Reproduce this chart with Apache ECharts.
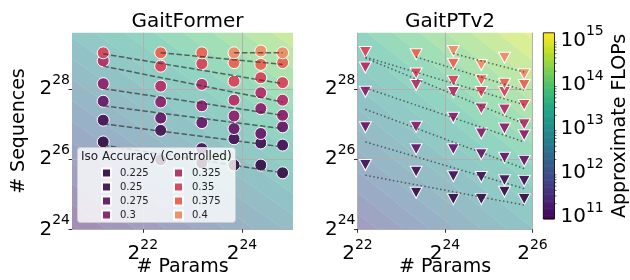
<!DOCTYPE html>
<html><head><meta charset="utf-8">
<script src="https://cdn.jsdelivr.net/npm/echarts@6/dist/echarts.min.js"></script>
<style>html,body{margin:0;padding:0;background:#fff}#c{width:630px;height:280px}</style>
</head><body><div id="c"></div>
<script>
// ---------- data (log2 values) ----------
const levels = ['0.225','0.25','0.275','0.3','0.325','0.35','0.375','0.4'];
const levelColors = ['#3d1c52','#4b1f5f','#6b2470','#8e2b72','#b3386e','#d54c61','#e66a58','#ec916b'];

const leftXTicks = [22, 24];
const rightXTicks = [22, 24, 26];
const yTicks = [24, 26, 28];
const cbarTicks = [11, 12, 13, 14, 15];

// GaitFormer: log2(# Params) columns and log2(# Sequences) per iso-accuracy level
const gfParams = [21.2, 22.36, 23.19, 23.84, 24.38, 24.82];
const gfSeq225 = [26.49, 25.98, 25.89, 25.83, 25.83, 25.61];
const gfSeq250 = [27.11, 26.82, 26.30, 26.58, 26.46, 26.40];
const gfSeq275 = [27.65, 27.17, 27.04, 26.87, 26.73, 26.92];
const gfSeq300 = [28.15, 27.63, 27.52, 27.23, 27.44, 27.25];
const gfSeq325 = [28.80, 28.08, 28.13, 27.68, 27.89, 27.68];
const gfSeq350 = [29.03, 28.65, 28.72, 28.22, 28.32, 28.18];
const gfSeq375 = [null, 29.03, 29.03, 28.75, 28.70, 28.75];
const gfSeq400 = [null, null, null, 29.03, 29.08, 29.03];
// GaitFormer iso-accuracy fit lines [[x0,y0],[x1,y1]]
const gfFit225 = [[21.2, 26.40], [24.82, 25.61]];
const gfFit250 = [[21.2, 27.01], [24.82, 26.35]];
const gfFit275 = [[21.2, 27.52], [24.82, 26.87]];
const gfFit300 = [[21.2, 28.01], [24.82, 27.25]];
const gfFit325 = [[21.2, 28.65], [24.82, 27.63]];
const gfFit350 = [[21.2, 29.00], [24.82, 28.15]];
const gfFit375 = [[22.36, 29.03], [24.82, 28.70]];
const gfFit400 = [[23.84, 29.03], [24.82, 29.03]];

// GaitPTv2
const ptParams = [22.18, 23.34, 24.19, 24.83, 25.36, 25.81];
const ptSeq225 = [null, 25.04, 24.86, 24.86, 25.07, 24.86];
const ptSeq250 = [25.83, 25.64, 25.51, 25.49, 25.40, 25.38];
const ptSeq275 = [26.91, 26.28, 26.28, 26.14, 26.04, 25.95];
const ptSeq300 = [27.92, 26.92, 27.18, 26.73, 26.87, 26.68];
const ptSeq325 = [28.61, 28.11, 27.91, 27.44, 27.41, 26.99];
const ptSeq350 = [29.05, 28.44, 28.23, 27.91, 27.91, 27.54];
const ptSeq375 = [null, 28.99, 28.72, 28.25, 28.15, 28.11];
const ptSeq400 = [null, null, 29.08, 28.68, 28.89, 28.42];
const ptFit225 = [[22.18, 25.54], [25.81, 24.69]];
const ptFit250 = [[22.18, 26.49], [25.81, 25.16]];
const ptFit275 = [[22.18, 27.42], [25.81, 25.73]];
const ptFit300 = [[22.18, 28.03], [25.81, 26.49]];
const ptFit325 = [[22.18, 28.88], [25.81, 27.01]];
const ptFit350 = [[22.18, 28.91], [25.81, 27.55]];
const ptFit375 = [[23.34, 28.91], [25.81, 27.96]];
const ptFit400 = [[24.19, 29.01], [25.81, 28.48]];

// colour bar range (log10 FLOPs)
const cbarMin = 10.955, cbarMax = 15.17;

// ---------- build ----------
const FONT = 'DejaVu Sans';
const gfSeqs = [gfSeq225, gfSeq250, gfSeq275, gfSeq300, gfSeq325, gfSeq350, gfSeq375, gfSeq400];
const gfFits = [gfFit225, gfFit250, gfFit275, gfFit300, gfFit325, gfFit350, gfFit375, gfFit400];
const ptSeqs = [ptSeq225, ptSeq250, ptSeq275, ptSeq300, ptSeq325, ptSeq350, ptSeq375, ptSeq400];
const ptFits = [ptFit225, ptFit250, ptFit275, ptFit300, ptFit325, ptFit350, ptFit375, ptFit400];

const viridis = ['#440154','#482475','#414487','#355f8d','#2a788e','#21918c','#22a884','#44bf70','#7ad151','#bddf26','#fde725'];

// map log10 FLOPs <-> log2(params)+log2(seqs) for the background field
const S0 = 43.94, SK = 0.3355;
function sOf(lf){ return S0 + (lf - cbarMin) / SK; }

const bandData = [];
for (let lf = 9.8; lf < 16.6; lf += 0.2) {
  const mid = Math.min(cbarMax, Math.max(cbarMin, lf + 0.1));
  bandData.push([lf, lf + 0.2, mid]);
}
const cbarData = [];
const NS = 160;
for (let i = 0; i < NS; i++) {
  const lo = cbarMin + (cbarMax - cbarMin) * i / NS;
  const hi = cbarMin + (cbarMax - cbarMin) * (i + 1) / NS;
  cbarData.push([lo, hi, (lo + hi) / 2]);
}
const minorTicks = [];
for (let n = 10; n <= 15; n++) for (let k = 2; k <= 9; k++) {
  const v = n + Math.log10(k);
  if (v > cbarMin && v < cbarMax) minorTicks.push([v]);
}

const xl = [20.57, 25.03], xr = [22, 26], yr = [24, 29.60];

function bandSeries(gi, xe) {
  return {
    type: 'custom', coordinateSystem: 'cartesian2d', xAxisIndex: gi, yAxisIndex: gi,
    clip: true, z: -1, silent: true, data: bandData,
    renderItem: function (params, api) {
      const sLo = sOf(api.value(0)), sHi = sOf(api.value(1));
      const x0 = xe[0] - 3, x1 = xe[1] + 3;
      const pts = [[x0, sLo - x0], [x1, sLo - x1], [x1, sHi - x1], [x0, sHi - x0]].map(p => api.coord(p));
      return { type: 'polygon', shape: { points: pts }, style: { fill: api.visual('color'), opacity: 0.5 } };
    }
  };
}

const series = [];
series.push(bandSeries(0, xl));
series.push(bandSeries(1, xr));
series.push({
  type: 'custom', coordinateSystem: 'cartesian2d', xAxisIndex: 2, yAxisIndex: 2,
  silent: true, data: cbarData, z: 2,
  renderItem: function (params, api) {
    const a = api.coord([0, api.value(1)]), b = api.coord([1, api.value(0)]);
    return { type: 'rect', shape: { x: a[0], y: a[1] - 0.3, width: b[0] - a[0], height: b[1] - a[1] + 0.6 }, style: { fill: api.visual('color') } };
  }
});
const visualIdx = [0, 1, 2];
series.push({
  type: 'custom', coordinateSystem: 'cartesian2d', xAxisIndex: 2, yAxisIndex: 2,
  silent: true, data: [[0]], z: 5,
  renderItem: function (params, api) {
    const a = api.coord([0, cbarMax]), b = api.coord([1, cbarMin]);
    return { type: 'rect', shape: { x: a[0], y: a[1], width: b[0] - a[0], height: b[1] - a[1] }, style: { fill: 'none', stroke: '#000', lineWidth: 0.8 } };
  }
});
series.push({
  type: 'custom', coordinateSystem: 'cartesian2d', xAxisIndex: 2, yAxisIndex: 2,
  silent: true, data: minorTicks, z: 5,
  renderItem: function (params, api) {
    const p = api.coord([1, api.value(0)]);
    return { type: 'line', shape: { x1: p[0], y1: p[1], x2: p[0] + 2, y2: p[1] }, style: { stroke: '#000', lineWidth: 0.6 } };
  }
});

function pts(xs, ys) { const out = []; xs.forEach((x, i) => { if (ys[i] != null) out.push([x, ys[i]]); }); return out; }

levels.forEach((lv, i) => {
  series.push({
    name: lv, type: 'scatter', xAxisIndex: 0, yAxisIndex: 0, data: pts(gfParams, gfSeqs[i]),
    symbol: 'circle', symbolSize: 12, silent: true, z: 3,
    itemStyle: { color: levelColors[i], borderColor: '#fff', borderWidth: 1, opacity: 1 }
  });
  series.push({
    name: lv, type: 'scatter', xAxisIndex: 1, yAxisIndex: 1, data: pts(ptParams, ptSeqs[i]),
    symbol: 'triangle', symbolRotate: 180, symbolSize: [12, 11], silent: true, z: 3,
    itemStyle: { color: levelColors[i], borderColor: '#fff', borderWidth: 1, opacity: 1 }
  });
});
levels.forEach((lv, i) => {
  series.push({
    name: 'fitL' + lv, type: 'line', xAxisIndex: 0, yAxisIndex: 0, data: gfFits[i],
    symbol: 'none', silent: true, z: 4, lineStyle: { color: 'rgba(50,50,50,0.7)', width: 1.5, type: [5.5, 2.4] }
  });
  series.push({
    name: 'fitR' + lv, type: 'line', xAxisIndex: 1, yAxisIndex: 1, data: ptFits[i],
    symbol: 'none', silent: true, z: 4, lineStyle: { color: 'rgba(50,50,50,0.7)', width: 1.5, type: [1.5, 2.5] }
  });
});

const rich = {
  b: { fontSize: 20, fontFamily: FONT, color: '#000' },
  s: { fontSize: 14, fontFamily: FONT, color: '#000', padding: [0, 0, 17, 0] }
};
const tickStyle = { show: true, length: 3.5, lineStyle: { color: '#000', width: 0.8 } };
const splitStyle = { show: true, lineStyle: { color: '#b0b0b0', width: 1 } };
const nameStyle = { fontSize: 19, fontFamily: FONT, color: '#000' };

function xAxis(gi, ext, ticks) {
  return {
    type: 'value', gridIndex: gi, min: ext[0], max: ext[1], position: 'bottom',
    axisLine: { show: false },
    axisTick: Object.assign({ customValues: ticks }, tickStyle),
    axisLabel: { customValues: ticks, formatter: v => '{b|2}{s|' + v + '}', rich: rich, margin: 9 },
    splitLine: splitStyle,
    name: '# Params', nameLocation: 'middle', nameGap: 28, nameMoveOverlap: false, nameTextStyle: nameStyle
  };
}
function yAxis(gi, withName) {
  return {
    type: 'value', gridIndex: gi, min: yr[0], max: yr[1],
    axisLine: { show: false },
    axisTick: Object.assign({ customValues: yTicks }, tickStyle),
    axisLabel: { customValues: yTicks, formatter: v => '{b|2}{s|' + v + '}', rich: rich, margin: 2 },
    splitLine: splitStyle,
    name: withName ? '# Sequences' : '', nameLocation: 'middle', nameGap: 43, nameRotate: 90, nameTextStyle: nameStyle
  };
}

const legendBase = {
  orient: 'vertical', itemWidth: 9, itemHeight: 9, itemGap: 0, icon: 'rect',
  selectedMode: false, z: 10, padding: 0,
  textStyle: { fontSize: 10, lineHeight: 14, fontFamily: FONT, color: '#222', padding: [0, 0, 0, 4] }
};

const option = {
  animation: false,
  textStyle: { fontFamily: FONT },
  title: [
    { text: 'GaitFormer', left: 182.5, textAlign: 'center', top: 7, textStyle: { fontSize: 20, fontWeight: 'normal', fontFamily: FONT, color: '#000' } },
    { text: 'GaitPTv2', left: 445, textAlign: 'center', top: 7, textStyle: { fontSize: 20, fontWeight: 'normal', fontFamily: FONT, color: '#000' } },
    { text: 'Iso Accuracy (Controlled)', left: 77, top: 147, padding: [3, 4, 59, 4], z: 7,
      backgroundColor: 'rgba(255,255,255,0.8)', borderColor: '#cccccc', borderWidth: 1, borderRadius: 3,
      textStyle: { fontSize: 12, fontWeight: 'normal', lineHeight: 14, fontFamily: FONT, color: '#222' } }
  ],
  legend: [
    Object.assign({ left: 101, top: 166, data: levels.slice(0, 4) }, legendBase),
    Object.assign({ left: 173, top: 166, data: levels.slice(4) }, legendBase)
  ],
  grid: [
    { left: 72, top: 32.8, width: 221, height: 196.5, outerBoundsMode: 'none', containLabel: false },
    { left: 357.5, top: 32.8, width: 175, height: 196.5, outerBoundsMode: 'none', containLabel: false },
    { left: 543.3, top: 32.8, width: 11.2, height: 186.2, outerBoundsMode: 'none', containLabel: false }
  ],
  xAxis: [
    xAxis(0, xl, leftXTicks),
    xAxis(1, xr, rightXTicks),
    { type: 'value', gridIndex: 2, min: 0, max: 1, show: false }
  ],
  yAxis: [
    yAxis(0, true),
    yAxis(1, false),
    { type: 'value', gridIndex: 2, min: cbarMin, max: cbarMax, position: 'right',
      axisLine: { show: false }, splitLine: { show: false },
      axisTick: Object.assign({ customValues: cbarTicks }, tickStyle),
      axisLabel: { customValues: cbarTicks, formatter: v => '{b|10}{s|' + v + '}', rich: rich, margin: 6 },
      name: 'Approximate FLOPs', nameLocation: 'middle', nameGap: 56, nameRotate: 90, nameTextStyle: nameStyle }
  ],
  visualMap: {
    type: 'continuous', show: false, min: cbarMin, max: cbarMax, dimension: 2,
    seriesIndex: visualIdx, inRange: { color: viridis }
  },
  series: series
};
const chart = echarts.init(document.getElementById('c'), null, { renderer: 'canvas' });
chart.setOption(option);
</script></body></html>
